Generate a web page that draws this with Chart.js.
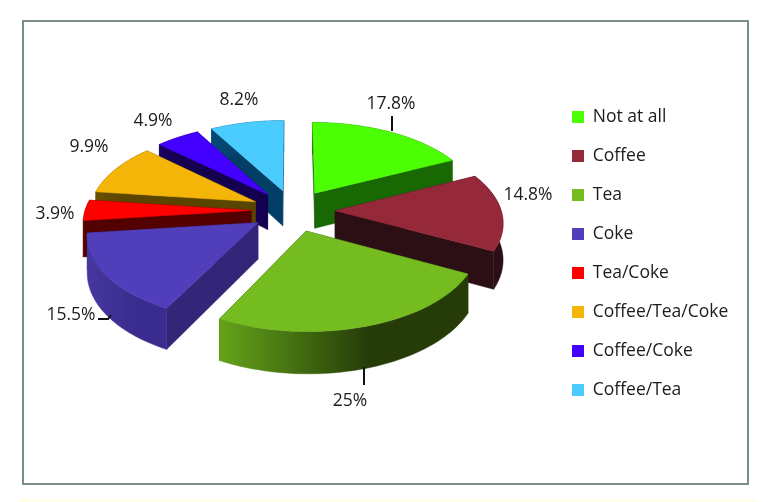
<!DOCTYPE html>
<html>
<head>
<meta charset="utf-8">
<style>html,body{margin:0;padding:0;background:#fff}canvas{display:block}</style>
<script src="https://cdn.jsdelivr.net/npm/chart.js@4"></script>
</head>
<body>
<canvas id="c" width="776" height="502"></canvas>
<script>
// ---- data ----
const categories = ["Not at all","Coffee","Tea","Coke","Tea/Coke","Coffee/Tea/Coke","Coffee/Coke","Coffee/Tea"];
const values = [17.8,14.8,25,15.5,3.9,9.9,4.9,8.2];

// ---- styles ----
const topColors  = ["#4cff04","#952839","#75bc20","#503ebb","#ff0000","#f4b408","#4400ff","#4accff"];
const wallColors = ["#186803","#2c0f15","#23380a","#332578","#520000","#594400","#14004f","#033e66"];
const outerLight = ["#186803","#3a141c","#64a31a","#46379f","#600000","#6a5000","#1a0060","#054a78"];
const outerDark  = ["#186803","#2c0f15","#253c08","#3a2c8e","#520000","#594400","#14004f","#033e66"];

// ---- layout of the annotations ----
const labelAnchors = [[391,104],[528,195],[350,401],[71,315],[55,214],[89,147],[153,121],[239,100]];
const leaderLines = [
  [[392,116],[392,131]],
  [[364,367],[364,385]],
  [[98,319],[108,319],[111,315]]
];
const TILT = 0.5, PERSPECTIVE = 0.12, DEPTH = 36, FONT = '"Open Sans", sans-serif';

function slicePoints(el, steps){
  const off = el.options.offset || 0;
  const mid = (el.startAngle + el.endAngle) / 2;
  const ox = Math.cos(mid) * off, oy = Math.sin(mid) * off;
  const R = el.outerRadius;
  const proj = (u, v, h) => {
    const s = 1 / (1 - PERSPECTIVE * v / R);
    return [el.x + u * s, el.y + v * TILT * s + h * s];
  };
  const arc = h => {
    const pts = [];
    for (let i = 0; i <= steps; i++) {
      const a = el.startAngle + (el.endAngle - el.startAngle) * i / steps;
      pts.push(proj(ox + R * Math.cos(a), oy + R * Math.sin(a), h));
    }
    return pts;
  };
  return {apexTop: proj(ox, oy, 0), apexBot: proj(ox, oy, DEPTH), arcTop: arc(0), arcBot: arc(DEPTH),
          depthKey: oy};
}
function poly(ctx, pts, fill){
  ctx.beginPath();
  pts.forEach((p, i) => i ? ctx.lineTo(p[0], p[1]) : ctx.moveTo(p[0], p[1]));
  ctx.closePath();
  ctx.fillStyle = fill; ctx.strokeStyle = fill; ctx.lineWidth = 0.5;
  ctx.fill(); ctx.stroke();
}
const pie3d = {
  id: 'pie3d',
  afterLayout(chart){
    chart.legend.top += 43; chart.legend.bottom += 43;
    chart.legend.left = 572 - chart.legend.options.labels.padding;
  },
  beforeDraw(chart){
    const ctx = chart.ctx;
    ctx.save();
    ctx.fillStyle = '#ffffff'; ctx.fillRect(0, 0, 776, 502);
    ctx.fillStyle = '#fefee9'; ctx.fillRect(19, 499, 738, 3);
    ctx.strokeStyle = '#7b8c8c'; ctx.lineWidth = 2;
    ctx.strokeRect(23, 21, 725, 463);
    ctx.restore();
  },
  beforeDatasetDraw(chart, args){
    const ctx = chart.ctx;
    const meta = args.meta;
    const items = meta.data.map((el, i) => ({i, el, g: slicePoints(el, 60)}));
    items.sort((a, b) => a.g.depthKey - b.g.depthKey);
    ctx.save();
    ctx.lineJoin = 'round';
    items.forEach(({i, g}) => {
      const n = g.arcTop.length - 1;
      poly(ctx, [g.apexTop, g.arcTop[0], g.arcBot[0], g.apexBot], wallColors[i]);
      poly(ctx, [g.apexTop, g.arcTop[n], g.arcBot[n], g.apexBot], wallColors[i]);
      const xs = g.arcTop.map(p => p[0]);
      const grad = ctx.createLinearGradient(Math.min(...xs), 0, Math.max(...xs), 0);
      grad.addColorStop(0, outerLight[i]);
      grad.addColorStop(0.6, outerDark[i]);
      grad.addColorStop(1, outerDark[i]);
      poly(ctx, g.arcTop.concat(g.arcBot.slice().reverse()), grad);
      poly(ctx, [g.apexTop].concat(g.arcTop), topColors[i]);
    });
    ctx.restore();
    return false;
  },
  afterDatasetsDraw(chart){
    const ctx = chart.ctx;
    ctx.save();
    ctx.strokeStyle = '#111'; ctx.lineWidth = 2;
    leaderLines.forEach(l => {
      ctx.beginPath();
      l.forEach((p, i) => i ? ctx.lineTo(p[0], p[1]) : ctx.moveTo(p[0], p[1]));
      ctx.stroke();
    });
    ctx.fillStyle = '#1c1c1c';
    ctx.font = '17.5px ' + FONT;
    ctx.textAlign = 'center'; ctx.textBaseline = 'middle';
    values.forEach((v, i) => ctx.fillText(v + '%', labelAnchors[i][0], labelAnchors[i][1]));
    ctx.restore();
  }
};
new Chart(document.getElementById('c'), {
  type: 'pie',
  data: {
    labels: categories,
    datasets: [{ data: values, backgroundColor: topColors, borderWidth: 0, offset: 42, radius: 166 }]
  },
  plugins: [pie3d],
  options: {
    responsive: false,
    animation: false,
    layout: { padding: { left: 10, right: 12, top: 0, bottom: 81 } },
    plugins: {
      tooltip: { enabled: false },
      title: { display: false },
      legend: {
        position: 'right',
        align: 'center',
        labels: {
          boxWidth: 12, boxHeight: 12, padding: 21.5, color: '#1c1c1c',
          font: { family: FONT, size: 17.5 }
        }
      }
    }
  }
});
</script>
</body>
</html>
